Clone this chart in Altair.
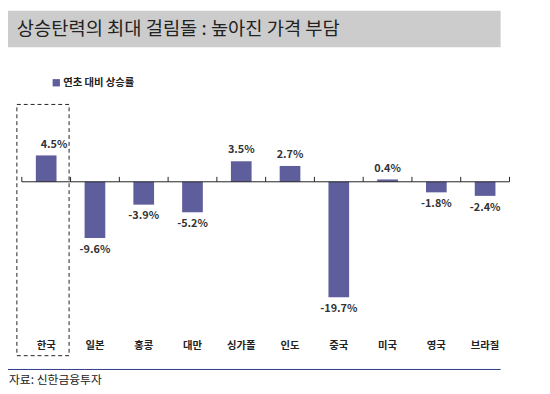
import altair as alt
import pandas as pd

countries = ["한국", "일본", "홍콩", "대만", "싱가폴", "인도", "중국", "미국", "영국", "브라질"]
values = [4.5, -9.6, -3.9, -5.2, 3.5, 2.7, -19.7, 0.4, -1.8, -2.4]
title_text = "상승탄력의 최대 걸림돌 : 높아진 가격 부담"
legend_text = "연초 대비 상승률"
source_text = "자료: 신한금융투자"

df = pd.DataFrame({"country": countries, "value": values})
df["label"] = df["value"].map(lambda v: f"{v:.1f}%")
df["base"] = 0.0

FONT = "Noto Sans CJK KR"
BAR = "#5E5E9C"
W, H = 495, 235
ydom = [-24.96, 14.54]
Z = 181.5 - 95  # zero line in plot pixels

xscale = alt.Scale(paddingInner=0, paddingOuter=0)
xaxis = alt.Axis(orient="bottom", title=None, domain=False, ticks=False,
                 labelAngle=0, labelPadding=13, labelFont=FONT, labelFontSize=10.5,
                 labelFontWeight="bold", labelColor="#222")
x = alt.X("country:N", sort=countries, scale=xscale, axis=xaxis)
yscale = alt.Scale(domain=ydom, nice=False, zero=False)
y = alt.Y("value:Q", scale=yscale, axis=None)

base = alt.Chart(df)

bars = base.mark_bar(size=21, color=BAR).encode(x=x, y=y, y2="base:Q")

txt = dict(font=FONT, fontSize=11, fontWeight="bold", color="#333")
pos = base.transform_filter("datum.value >= 0 && datum.country != '한국'").mark_text(
    baseline="bottom", dy=-6, **txt).encode(x=x, y=y, text="label:N")
kor = base.transform_filter("datum.country == '한국'").mark_text(
    baseline="bottom", dy=-6, dx=8, **txt).encode(x=x, y=y, text="label:N")
neg = base.transform_filter("datum.value < 0").mark_text(
    baseline="top", dy=6, **txt).encode(x=x, y=y, text="label:N")

ticks = base.mark_rule(color="#222", strokeWidth=1).encode(
    x=alt.X("country:N", sort=countries, scale=xscale, bandPosition=0, axis=xaxis),
    y=alt.value(Z - 5), y2=alt.value(Z))

one = pd.DataFrame({"a": [0]})

zero_line = alt.Chart(one).mark_rule(color="#222", strokeWidth=1).encode(
    x=alt.value(0), x2=alt.value(W), y=alt.value(Z))
end_tick = alt.Chart(one).mark_rule(color="#222").encode(
    x=alt.value(W), y=alt.value(Z - 5), y2=alt.value(Z))

box = alt.Chart(one).mark_rect(fillOpacity=0, stroke="#222", strokeDash=[4, 3], strokeWidth=1).encode(
    x=alt.value(17 - 22), x2=alt.value(70 - 22), y=alt.value(103 - 95), y2=alt.value(358 - 95))

tbar = alt.Chart(one).mark_rect(color="#CCCCCC").encode(
    x=alt.value(8 - 22), x2=alt.value(508 - 22), y=alt.value(8 - 95), y2=alt.value(45 - 95))
ttext = alt.Chart(one).mark_text(font=FONT, fontSize=19, color="#222", align="left",
                                 baseline="middle", text=title_text).encode(
    x=alt.value(17 - 22), y=alt.value(27 - 95))

lsq = alt.Chart(one).mark_square(color=BAR, size=55, opacity=1).encode(
    x=alt.value(57 - 22), y=alt.value(81 - 95))
ltext = alt.Chart(one).mark_text(font=FONT, fontSize=10.5, fontWeight="bold", color="#222",
                                 align="left", baseline="middle", text=legend_text).encode(
    x=alt.value(64 - 22), y=alt.value(81 - 95))

srule = alt.Chart(one).mark_rule(color="#2E3A8C", strokeWidth=1).encode(
    x=alt.value(8 - 22), x2=alt.value(508 - 22), y=alt.value(372 - 95))
stext = alt.Chart(one).mark_text(font=FONT, fontSize=12, color="#222", align="left",
                                 baseline="middle", text=source_text).encode(
    x=alt.value(9 - 22), y=alt.value(383 - 95))

chart = alt.layer(bars, pos, kor, neg, ticks, zero_line, end_tick, box, tbar, ttext, lsq, ltext,
                  srule, stext).properties(
    width=W, height=H,
    background="white",
    padding={"left": 14, "top": 87, "right": 33, "bottom": 64},
    autosize=alt.AutoSizeParams(type="none"),
).configure_view(stroke=None)

chart.save("out.html", embed_options={"renderer": "svg", "actions": False})
